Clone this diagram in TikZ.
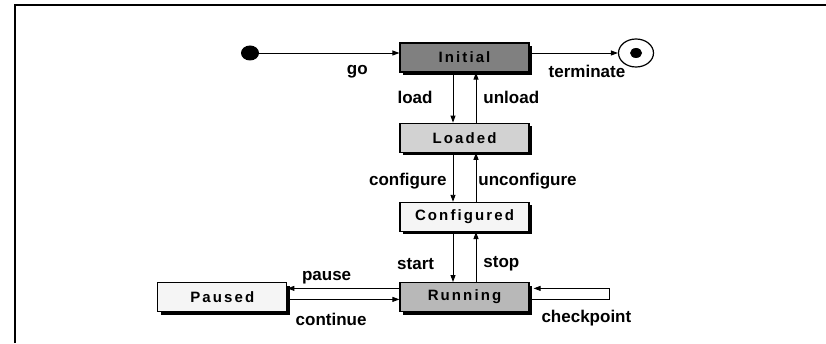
\documentclass[tikz,border=0pt]{standalone}
\usepackage{fontspec}
\setmainfont{Liberation Sans}
\usetikzlibrary{arrows.meta,positioning,shapes.geometric,shadows}
\definecolor{stateDark}{RGB}{128,128,128}
\definecolor{stateMid}{RGB}{184,184,184}
\definecolor{stateLight}{RGB}{210,210,210}
\definecolor{statePale}{RGB}{245,245,245}

\begin{document}
\begin{tikzpicture}[x=1pt, y=1pt,
  state/.style={draw, line width=1.2pt, minimum width=129pt, minimum height=29pt,
                inner sep=0pt, font=\fontsize{15}{17}\selectfont\bfseries\addfontfeature{LetterSpace=14},
                drop shadow={shadow xshift=3pt, shadow yshift=-3pt, fill=black, opacity=1}},
  lbl/.style={font=\fontsize{17}{20}\selectfont\bfseries, inner sep=0pt},
  trans/.style={-{Triangle[length=7pt, width=5pt]}, line width=0.9pt}
]
  \useasboundingbox (0,0) rectangle (826,343);
  % frame
  \draw[line width=1.2pt] (15,0) -- (15,338) -- (826,338);

  \node[state, fill=stateDark] (initial) at (464.5,285.5) {Initial};
  \node[state, fill=stateLight, below=50pt of initial]    (loaded)     {Loaded};
  \node[state, fill=statePale, below=49pt of loaded]      (configured) {Configured};
  \node[state, fill=stateMid, below=50pt of configured]   (running)    {Running};
  \node[state, fill=statePale, left=112pt of running]     (paused)     {Paused};

  \node[ellipse, fill=black, minimum width=18pt, minimum height=15pt, inner sep=0pt] (start) at (250,290) {};
  \node[ellipse, draw, line width=1.2pt, minimum width=35pt, minimum height=28pt, inner sep=0pt] (final) at (636,290) {};
  \node[ellipse, fill=black, minimum width=12pt, minimum height=10pt, inner sep=0pt] (finaldot) at (final) {};

  \draw[trans] (start) -- (initial.west |- start) node[lbl, pos=0.7, below=11.8pt] {go};
  \draw[trans] (initial.east |- final) -- (final) node[lbl, pos=0.65, below=11.9pt] {terminate};

  \draw[trans] ([xshift=-11.5pt]initial.south) -- ([xshift=-11.5pt]loaded.north)
    node[lbl, pos=0.5, left=20pt] {load};
  \draw[trans] ([xshift=11.5pt]loaded.north) -- ([xshift=11.5pt]initial.south)
    node[lbl, pos=0.5, right=7pt] {unload};
  \draw[trans] ([xshift=-11.5pt]loaded.south) -- ([xshift=-11.5pt]configured.north)
    node[lbl, pos=0.57, left=6pt] {configure};
  \draw[trans] ([xshift=11.5pt]configured.north) -- ([xshift=11.5pt]loaded.south)
    node[lbl, pos=0.43, right=2pt] {unconfigure};
  \draw[trans] ([xshift=-11.5pt]configured.south) -- ([xshift=-11.5pt]running.north)
    node[lbl, pos=0.64, left=18.5pt] {start};
  \draw[trans] ([xshift=11.5pt]running.north) -- ([xshift=11.5pt]configured.south)
    node[lbl, pos=0.36, right=7pt] {stop};

  \draw[trans] ([yshift=8.7pt]running.west) -- ([yshift=8.7pt]paused.east)
    node[lbl, pos=0.65, above=3.8pt] {pause};
  \draw[trans] ([yshift=-2.3pt]paused.east) -- ([yshift=-2.3pt]running.west)
    node[lbl, pos=0.39, below=13pt] {continue};
  \draw[trans] ([yshift=-2.5pt]running.east) -- ++(80pt,0) node[lbl, pos=0.71, below=10pt] {checkpoint}
    |- ([xshift=4pt, yshift=8.7pt]running.east);
\end{tikzpicture}
\end{document}
